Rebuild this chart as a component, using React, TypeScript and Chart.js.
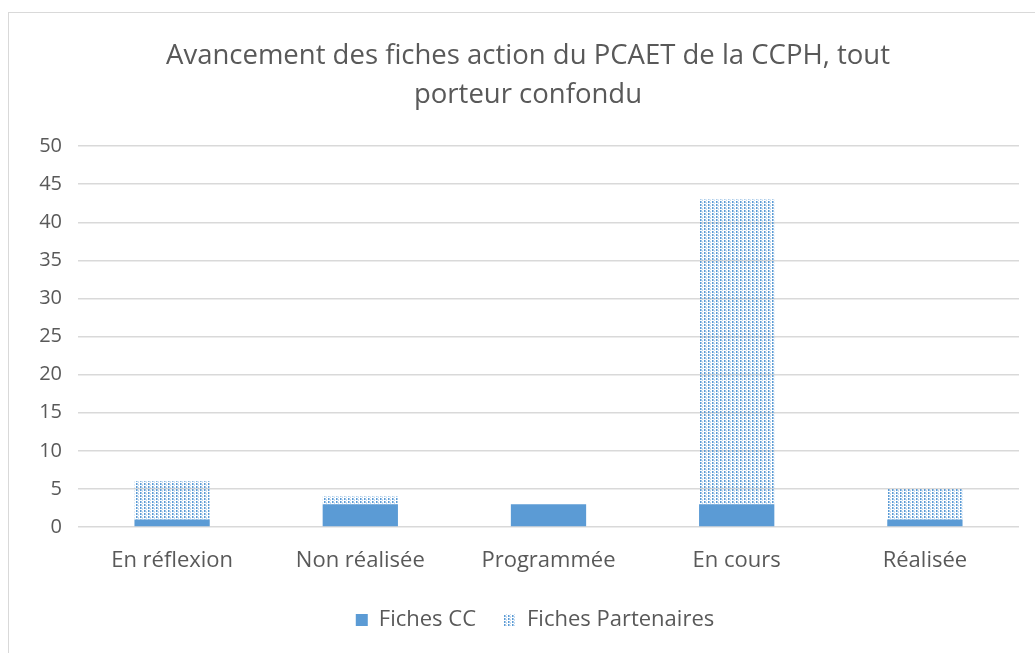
import React, { useEffect, useRef } from "react";
import { Chart, registerables } from "chart.js";

Chart.register(...registerables);

const categories = ["En réflexion", "Non réalisée", "Programmée", "En cours", "Réalisée"];
const fichesCC = [1, 3, 3, 3, 1];
const fichesPartenaires = [5, 1, 0, 40, 4];
const titleLines = ["Avancement des fiches action du PCAET de la CCPH, tout", "porteur confondu"];
const seriesNames = ["Fiches CC", "Fiches Partenaires"];

const BLUE = "#5B9BD5";
const TEXT = "#595959";
const GRID = "#d9d9d9";
const FONT = "'Open Sans', Lato, sans-serif";

function makePattern(): CanvasPattern | string {
  const c = document.createElement("canvas");
  c.width = 4;
  c.height = 3;
  const ctx = c.getContext("2d");
  if (!ctx) return BLUE;
  ctx.fillStyle = BLUE;
  ctx.fillRect(0, 0, 1, 2);
  ctx.globalAlpha = 0.55;
  ctx.fillRect(1, 0, 1, 2);
  ctx.globalAlpha = 0.35;
  ctx.fillRect(2, 1, 1, 2);
  const p = ctx.createPattern(c, "repeat");
  return p || BLUE;
}

const legendShift = {
  id: "legendShift",
  afterLayout(chart: any) {
    const lg = chart.legend;
    if (lg) {
      lg.left += 7;
      lg.right += 7;
    }
  },
};

export default function App() {
  const ref = useRef<HTMLCanvasElement | null>(null);

  useEffect(() => {
    if (!ref.current) return;
    const pattern = makePattern();
    const chart = new Chart(ref.current, {
      type: "bar",
      data: {
        labels: categories,
        datasets: [
          {
            label: seriesNames[0],
            data: fichesCC,
            backgroundColor: BLUE,
            borderWidth: 0,
            categoryPercentage: 0.8,
            barPercentage: 0.5,
          },
          {
            label: seriesNames[1],
            data: fichesPartenaires,
            backgroundColor: pattern as any,
            borderWidth: 0,
            categoryPercentage: 0.8,
            barPercentage: 0.5,
          },
        ],
      },
      plugins: [legendShift],
      options: {
        animation: false,
        responsive: false,
        layout: { padding: { left: 37, right: 16, top: 0, bottom: 12 } },
        plugins: {
          title: {
            display: true,
            text: titleLines,
            color: TEXT,
            font: { family: FONT, size: 27.5, weight: "normal", lineHeight: 1.42 },
            padding: { top: 37, bottom: 31 },
          },
          legend: {
            position: "bottom",
            labels: {
              color: TEXT,
              font: { family: FONT, size: 22 },
              boxWidth: 12,
              boxHeight: 12,
              padding: 28,
            },
          },
          tooltip: { enabled: false },
        },
        scales: {
          x: {
            stacked: true,
            grid: { display: false, drawTicks: false },
            border: { display: false },
            ticks: { color: TEXT, font: { family: FONT, size: 22 }, padding: 21 },
            afterFit: (s: any) => {
              s.height = 54;
            },
          },
          y: {
            stacked: true,
            min: 0,
            max: 50,
            ticks: { stepSize: 5, color: TEXT, font: { family: FONT, size: 20 }, padding: 16 },
            grid: { color: GRID, lineWidth: 1.5, drawTicks: false },
            border: { display: false },
            afterFit: (s: any) => {
              s.width = 41;
            },
          },
        },
      },
    });
    return () => chart.destroy();
  }, []);

  return (
    <div style={{ position: "fixed", inset: 0, overflow: "hidden", background: "#fff" }}>
      <div
        style={{
          position: "absolute",
          left: 8,
          top: 12,
          width: 1100,
          height: 700,
          border: "1px solid #d9d9d9",
        }}
      />
      <canvas
        ref={ref}
        width={1035}
        height={653}
        style={{ position: "absolute", left: 0, top: 0, width: 1035, height: 653 }}
      />
    </div>
  );
}
